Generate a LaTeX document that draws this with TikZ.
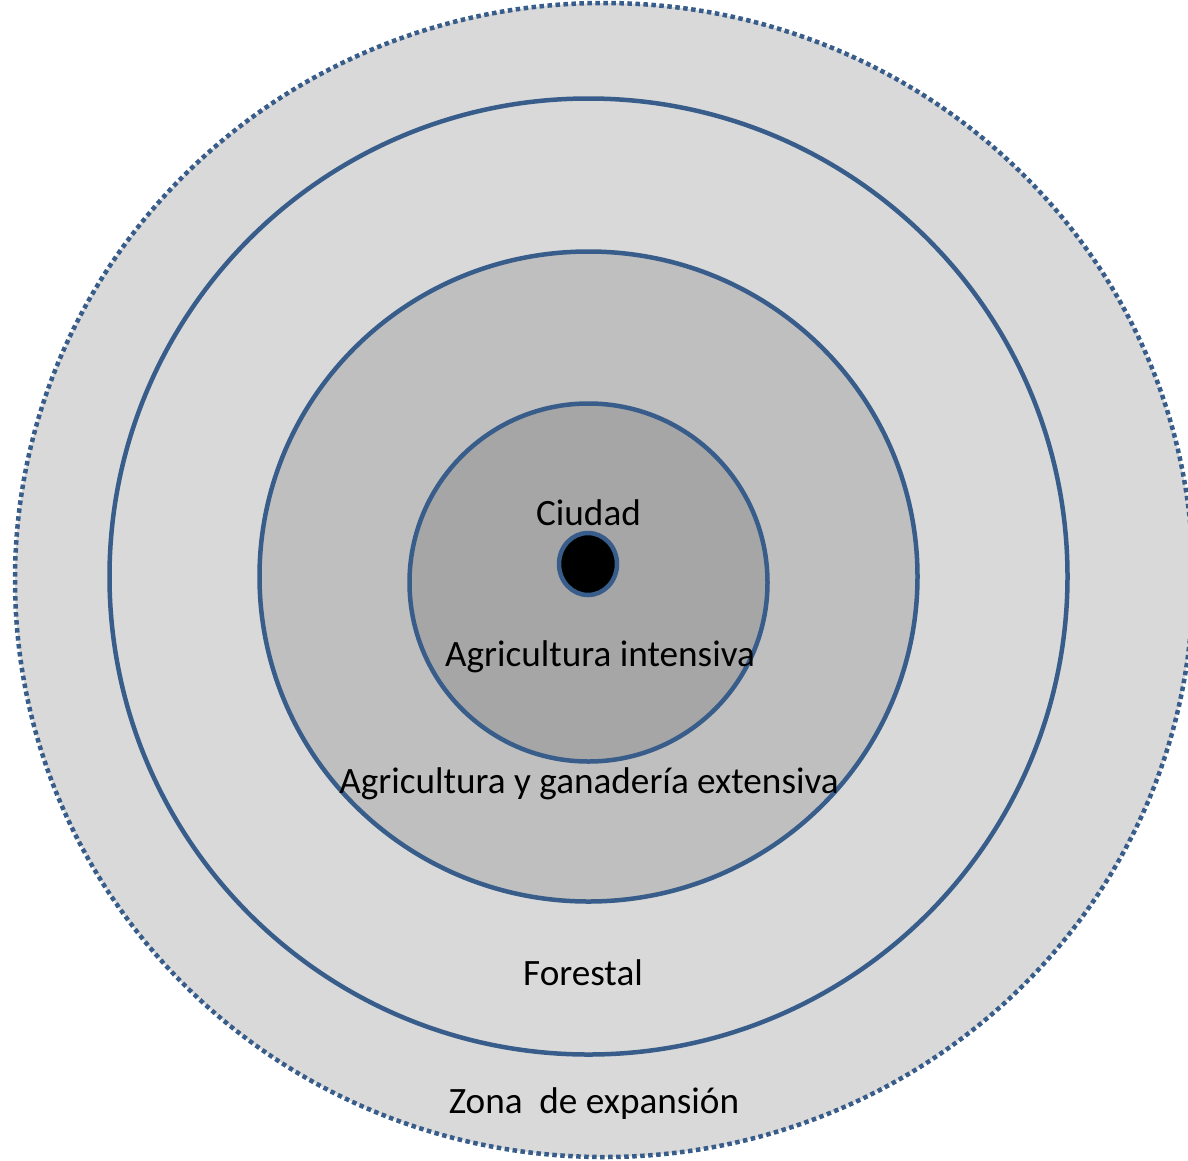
\documentclass[tikz,border=0pt]{standalone}
\usepackage{fontspec}
\setmainfont{Carlito}
\definecolor{ringblue}{RGB}{56,93,138}
\definecolor{gray1}{RGB}{217,217,217}
\definecolor{gray2}{RGB}{191,191,191}
\definecolor{gray3}{RGB}{166,166,166}
\begin{document}
\begin{tikzpicture}[x=1pt,y=-1pt,
  ring/.style={draw=ringblue,line width=4.5pt},
  lbl/.style={anchor=base,inner sep=0pt,font=\fontsize{37.2}{44}\selectfont}]
\useasboundingbox (0,0) rectangle (1188,1160);
\clip (0,0) rectangle (1188,1160);
\path[fill=gray1,draw=ringblue,line width=4.5pt,dash pattern=on 4.5pt off 3.5pt]
  (604,580) ellipse [x radius=589pt,y radius=577pt];
\path[ring,fill=gray1] (588.5,576.5) ellipse [x radius=479pt,y radius=478pt];
\path[ring,fill=gray2] (588.5,576.5) ellipse [x radius=329pt,y radius=325pt];
\path[ring,fill=gray3] (588.5,582.5) circle [radius=179pt];
\path[ring,fill=black] (588,564) ellipse [x radius=29pt,y radius=31pt];
\node[lbl] (ciudad) at (588.5,525) {Ciudad};
\node[lbl] (intensiva) at (600,666) {Agricultura intensiva};
\node[lbl] (extensiva) at (589,793) {Agricultura y ganadería extensiva};
\node[lbl] (forestal) at (583,985) {Forestal};
\node[lbl] (zona) at (594,1113) {Zona~~de expansión};
\end{tikzpicture}
\end{document}
